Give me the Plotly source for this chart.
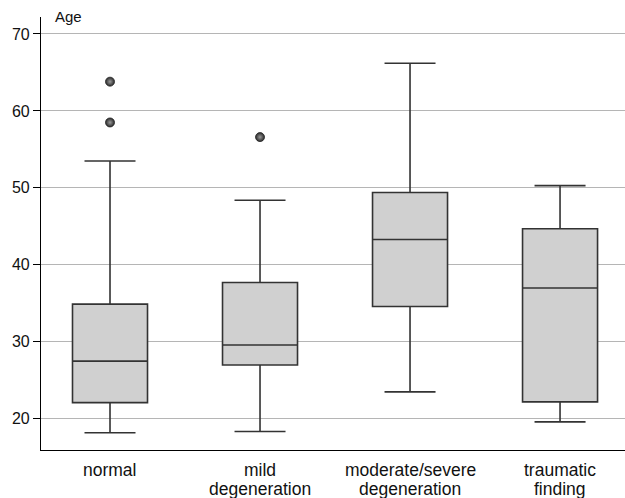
import plotly.graph_objects as go

categories = ["normal", "mild degeneration", "moderate/severe degeneration", "traumatic finding"]
label_line1 = ["normal", "mild", "moderate/severe", "traumatic"]
label_line2 = ["", "degeneration", "degeneration", "finding"]
lower = [18.2, 18.35, 23.5, 19.6]
q1 = [22.1, 27.0, 34.6, 22.2]
median = [27.5, 29.6, 43.3, 37.0]
q3 = [34.9, 37.7, 49.4, 44.7]
upper = [53.5, 48.4, 66.2, 50.3]
outlier_cat = ["normal", "normal", "mild degeneration"]
outlier_val = [63.8, 58.5, 56.6]
yticks = [20, 30, 40, 50, 60, 70]

fig = go.Figure()
fig.add_trace(go.Box(
    x=categories, q1=q1, median=median, q3=q3,
    lowerfence=lower, upperfence=upper,
    fillcolor="#d0d0d0", line=dict(color="#333333", width=1.6),
    width=0.5, whiskerwidth=0.68, boxpoints=False, showlegend=False,
    hoverinfo="skip",
))
fig.add_trace(go.Scatter(
    x=outlier_cat, y=outlier_val, mode="markers",
    marker=dict(size=9, color="#2a2a2a", line=dict(color="#222", width=0.8),
                gradient=dict(type="radial", color="#9a9a9a")),
    showlegend=False, hoverinfo="skip",
))

annotations = []
for i, cat in enumerate(categories):
    for line, shift in ((label_line1[i], -20), (label_line2[i], -38.5)):
        if line:
            annotations.append(dict(text=line, x=cat, y=0, xref="x", yref="paper",
                                    xanchor="center", yanchor="middle", yshift=shift,
                                    showarrow=False, font=dict(size=17.5)))
annotations.append(dict(text="Age", x=0.021, y=1.0, xref="paper", yref="paper",
                        xanchor="left", yanchor="middle", yshift=1,
                        showarrow=False, font=dict(size=15)))

fig.update_layout(
    width=625, height=498,
    margin=dict(l=41, r=0, t=17, b=48),
    plot_bgcolor="white", paper_bgcolor="white",
    font=dict(family="Liberation Sans, Arial, sans-serif", size=14, color="#111"),
    xaxis=dict(type="category", range=[-0.46, 3.433], showgrid=False,
               showline=True, linecolor="black", linewidth=1.2, ticks="",
               showticklabels=False, zeroline=False),
    yaxis=dict(range=[15.95, 72.2], tickvals=yticks, showgrid=True,
               gridcolor="#b5b5b5", gridwidth=1.2, showline=True,
               linecolor="black", linewidth=1.2, ticks="outside", ticklen=7,
               tickcolor="black", tickfont=dict(size=16), zeroline=False),
    annotations=annotations,
)
fig.write_html("out.html")
